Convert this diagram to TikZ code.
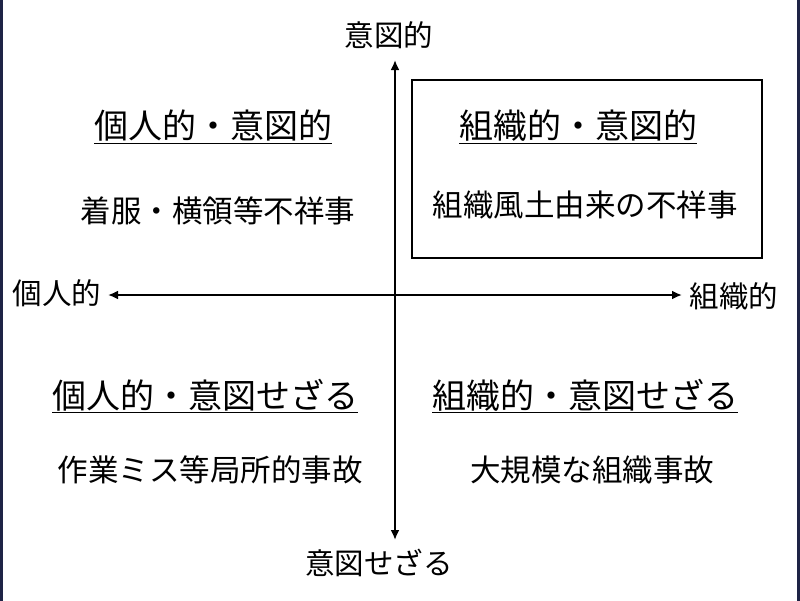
\documentclass[tikz,border=0pt]{standalone}
\usepackage{fontspec}
\newfontfamily\jp{Noto Sans CJK JP}
\usetikzlibrary{arrows.meta}
\begin{document}
\begin{tikzpicture}[x=1pt,y=-1pt,
  head/.style={font=\jp\fontsize{34}{37}\selectfont},
  body/.style={font=\jp\fontsize{30.5}{33}\selectfont},
  lab/.style={font=\jp\fontsize{29.5}{32}\selectfont},
  ax/.style={line width=2.5pt,{Latex[length=10pt,width=9pt]}-{Latex[length=10pt,width=9pt]}}]
\useasboundingbox (0,0) rectangle (800,600);
\fill[white] (0,0) rectangle (800,600);
\draw[line width=3pt,color={rgb,255:red,30;green,35;blue,70}] (1.5,-5) -- (1.5,605) (798.5,-5) -- (798.5,605);
\coordinate (t) at (395,60); \coordinate (b) at (395,540);
\coordinate (l) at (108,295); \coordinate (r) at (682,295);
\draw[ax] (t) -- (b);
\draw[ax] (l) -- (r);
\node[lab] (lt) at (389,35) {意図的};
\node[lab] (lb) at (379,563) {意図せざる};
\node[lab] (ll) at (57,293) {個人的};
\node[lab] (lr) at (734,296) {組織的};
\node[draw,line width=2.5pt,minimum width=350pt,minimum height=178pt] (box) at (587,169) {};
\node[head] (h1) at (213,127) {\underline{個人的・意図的}};
\node[body] (b1) at (218,211) {着服・横領等不祥事};
\node[head] (h2) at (578,127) {\underline{組織的・意図的}};
\node[body] (b2) at (585,205) {組織風土由来の不祥事};
\node[head] (h3) at (205,396) {\underline{個人的・意図せざる}};
\node[body] (b3) at (210,470) {作業ミス等局所的事故};
\node[head] (h4) at (585,396) {\underline{組織的・意図せざる}};
\node[body] (b4) at (592,470) {大規模な組織事故};
\end{tikzpicture}
\end{document}
